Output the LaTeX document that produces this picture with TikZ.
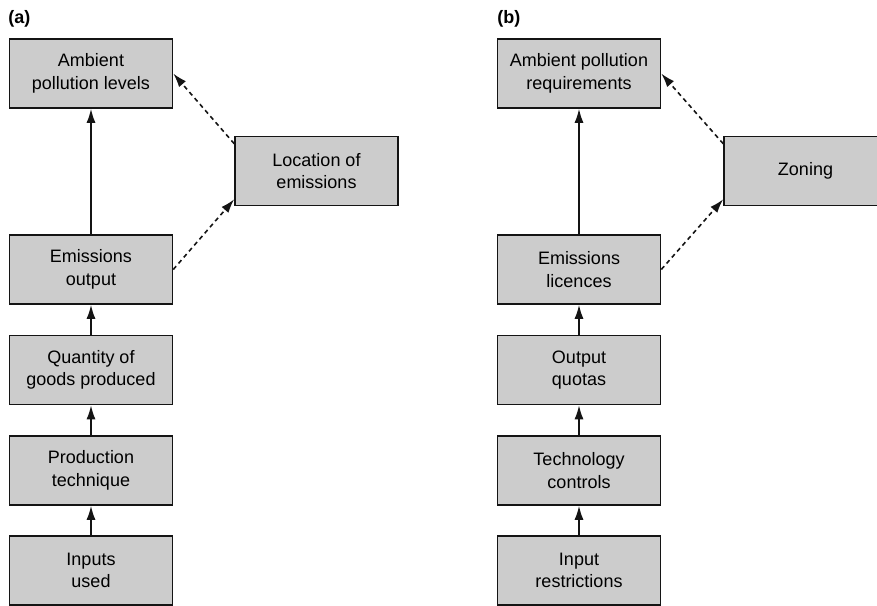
\documentclass[tikz,border=0pt]{standalone}
\usepackage{fontspec}
\setmainfont{Liberation Sans}
\usetikzlibrary{arrows.meta}
\definecolor{boxfill}{HTML}{CCCCCC}
\definecolor{ink}{HTML}{141414}
\tikzset{box/.style={draw=ink,fill=boxfill,line width=0.75pt,minimum width=81.5pt,minimum height=34.5pt,
    inner sep=0pt,align=center,font=\fontsize{9}{11.3}\selectfont},
  flow/.style={->,ink,line width=0.8pt},
  link/.style={->,ink,line width=0.8pt,dash pattern=on 2.2pt off 1.8pt},
  panel/.style={anchor=west,inner sep=0pt,font=\fontsize{9}{10}\selectfont\bfseries}}

\begin{document}
\begin{tikzpicture}[>={Latex[length=7pt,width=4.5pt]}, x=0.5pt, y=-0.5pt]
  \clip (0,0) rectangle (877,605);
  % (a) what drives pollution
  \node[panel] (tagA) at (8,19) {(a)};
  \node[box] (amb) at (91,73.5) {Ambient\\pollution levels};
  \node[box] (loc) at (316.5,171) {Location of\\emissions};
  \node[box] (emis) at (91,269.5) {Emissions\\output};
  \node[box] (qty) at (91,370) {Quantity of\\goods produced};
  \node[box] (tech) at (91,470.5) {Production\\technique};
  \node[box] (inp) at (91,570.5) {Inputs\\used};
  % (b) matching controls
  \node[panel] (tagB) at (497,19) {(b)};
  \node[box] (req) at (579,73.5) {Ambient pollution\\requirements};
  \node[box] (zone) at (805.5,171) {Zoning};
  \node[box] (lic) at (579,269.5) {Emissions\\licences};
  \node[box] (quota) at (579,370) {Output\\quotas};
  \node[box] (ctrl) at (579,470.5) {Technology\\controls};
  \node[box] (restr) at (579,570.5) {Input\\restrictions};
  \foreach \a/\b in {inp/tech,tech/qty,qty/emis,emis/amb,restr/ctrl,ctrl/quota,quota/lic,lic/req}
    \draw[flow] (\a) -- (\b);
  \draw[link] (emis.east) -- ([yshift=3.5pt]loc.south west);
  \draw[link] ([yshift=-4pt]loc.north west) -- (amb.east);
  \draw[link] (lic.east) -- ([yshift=3.5pt]zone.south west);
  \draw[link] ([yshift=-4pt]zone.north west) -- (req.east);
\end{tikzpicture}
\end{document}
